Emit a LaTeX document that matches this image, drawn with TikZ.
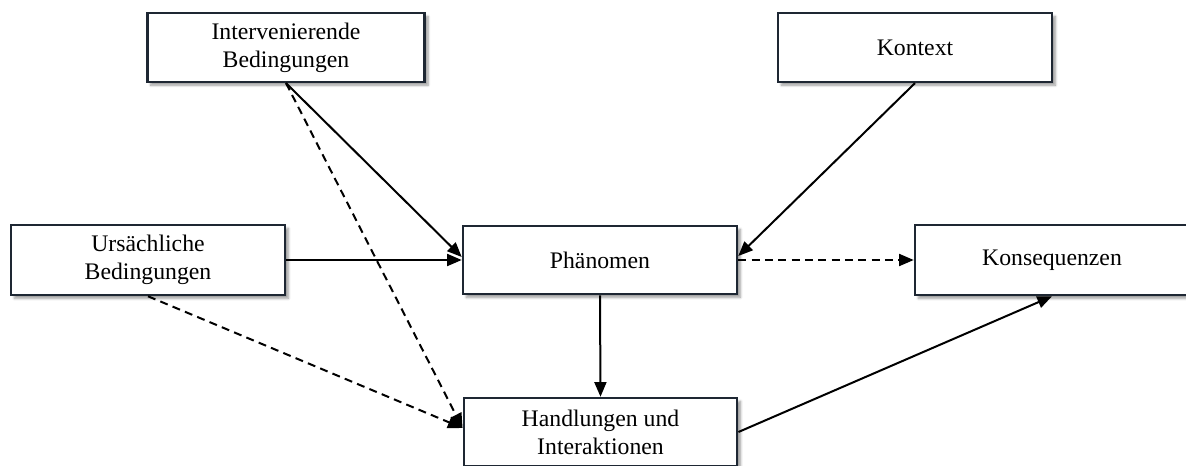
\documentclass[tikz,border=0pt]{standalone}
\usepackage{fontspec}
\setmainfont{Liberation Serif}
\usetikzlibrary{arrows.meta,calc,shadows.blur}
\definecolor{boxline}{HTML}{1E2733}
\tikzset{
  box/.style={draw=boxline, line width=1.9pt, fill=white, align=center,
    inner sep=0pt, font=\fontsize{17.8}{21}\selectfont,
    blur shadow={shadow xshift=2.5pt, shadow yshift=-2.5pt, shadow blur steps=6, shadow opacity=40}},
  conn/.style={line width=1.5pt, -{Triangle[length=11pt,width=9pt]}},
  dconn/.style={conn, dash pattern=on 6pt off 4pt}
}
\begin{document}
\begin{tikzpicture}[x=0.75pt,y=-0.75pt]
\useasboundingbox (0,0) rectangle (1186,465);
\node[box, minimum width=208pt, minimum height=51.5pt] (inter) at (286,47.5) {Intervenierende\\Bedingungen};
\node[box, minimum width=205.5pt, minimum height=51.5pt] (kontext) at (915,47.5) {Kontext};
\node[box, minimum width=205.5pt, minimum height=52.5pt] (urs) at (148,260) {Ursächliche\\Bedingungen};
\node[box, minimum width=205.5pt, minimum height=51pt] (phae) at (600,260) {Phänomen};
\node[box, minimum width=205.5pt, minimum height=52.5pt] (kons) at (1052,260) {Konsequenzen};
\node[box, minimum width=205pt, minimum height=51pt] (handl) at (600.5,432) {Handlungen und\\Interaktionen};

\draw[conn] (inter.south) -- ($(phae.west)+(0,-3)$);
\draw[conn] (urs.east) -- (phae.west);
\draw[dconn] (inter.south) -- ($(handl.west)+(0,-4)$);
\draw[dconn] (urs.south) -- ($(handl.west)+(0,-4)$);
\draw[conn] (kontext.south) -- ($(phae.east)+(0,-4)$);
\draw[dconn] (phae.east) -- (kons.west);
\draw[conn] (phae.south) -- (handl.north);
\draw[conn] (handl.east) -- (kons.south);
\end{tikzpicture}
\end{document}
